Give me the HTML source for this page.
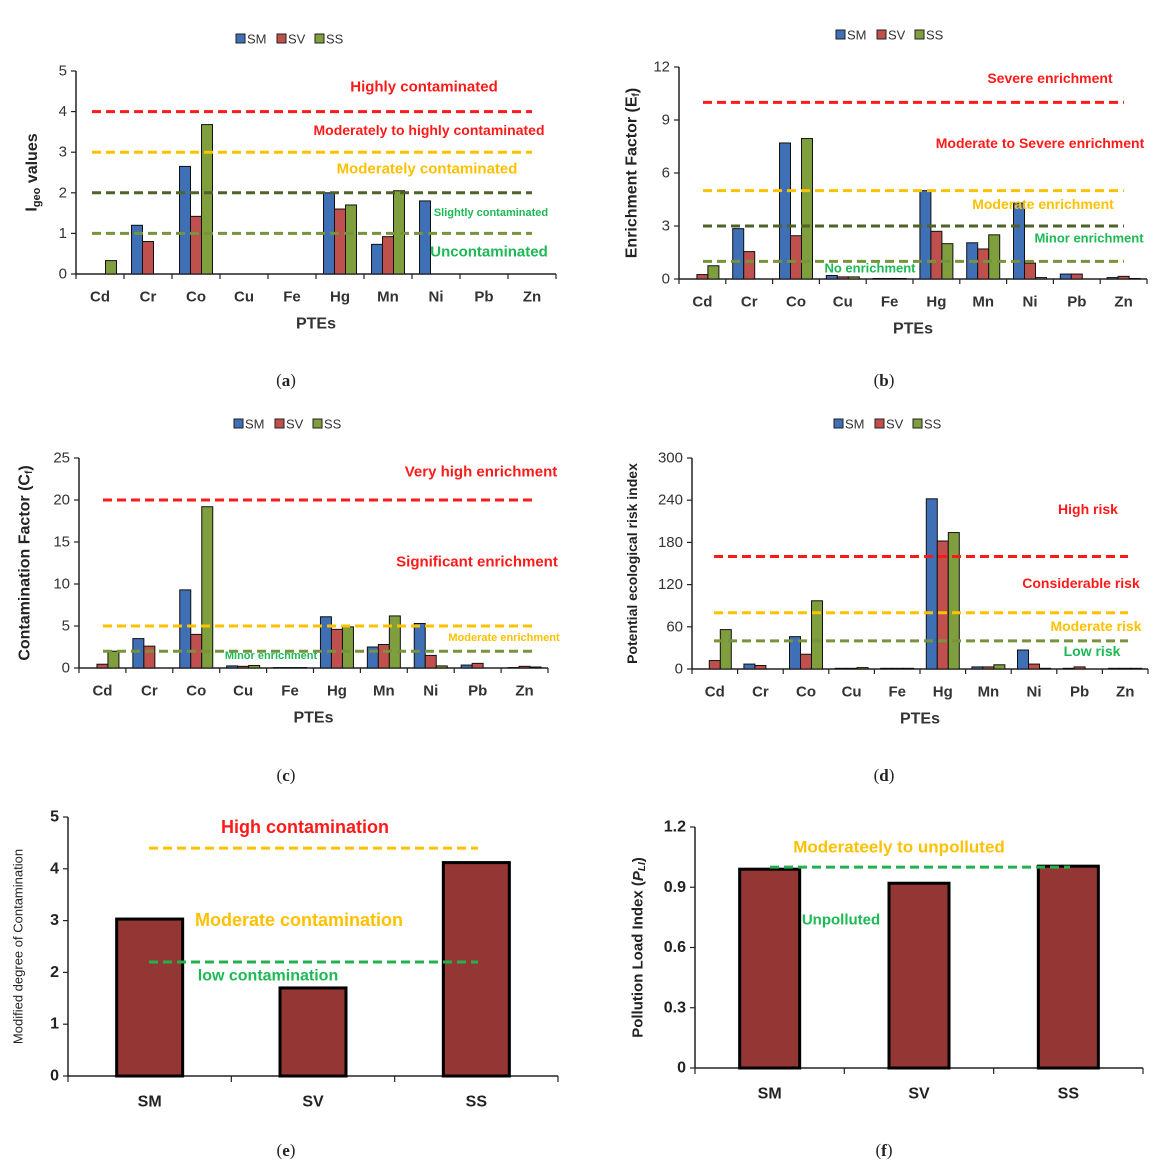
<!DOCTYPE html>
<html><head><meta charset="utf-8"><style>
body{margin:0;background:#fff;}
svg{display:block;font-family:"Liberation Sans",sans-serif;}
</style></head><body>
<svg id="fig" width="1167" height="1168" viewBox="0 0 1167 1168"></svg>
<script>
const elements = ["Cd","Cr","Co","Cu","Fe","Hg","Mn","Ni","Pb","Zn"];
const seriesNames = ["SM","SV","SS"];
const igeoSM = [0,1.2,2.65,0,0,2.0,0.73,1.8,0,0];
const igeoSV = [0,0.8,1.42,0,0,1.6,0.92,0,0,0];
const igeoSS = [0.33,0,3.68,0,0,1.7,2.05,0,0,0];
const igeoTicks = [0,1,2,3,4,5];
const efSM = [0,2.85,7.7,0.2,0.03,5.0,2.05,4.3,0.28,0.08];
const efSV = [0.25,1.55,2.45,0.12,0.03,2.7,1.7,0.9,0.28,0.15];
const efSS = [0.75,0,7.95,0.12,0.03,2.0,2.5,0.08,0,0.03];
const efTicks = [0,3,6,9,12];
const cfSM = [0,3.5,9.3,0.25,0.05,6.1,2.5,5.3,0.35,0.05];
const cfSV = [0.45,2.6,4.0,0.2,0.05,4.6,2.8,1.5,0.55,0.2];
const cfSS = [2.0,0,19.2,0.3,0.05,4.9,6.2,0.25,0,0.12];
const cfTicks = [0,5,10,15,20,25];
const erSM = [0,7,46,1,1,242,3,27,1,1];
const erSV = [12,5,21,1,1,182,3,7,3,1];
const erSS = [56,0,97,2,1,194,6,1,0,1];
const erTicks = [0,60,120,180,240,300];
const sites = ["SM","SV","SS"];
const mcdValues = [3.03,1.7,4.12];
const mcdTicks = [0,1,2,3,4,5];
const pliValues = [0.99,0.92,1.005];
const pliTicks = ["0","0.3","0.6","0.9","1.2"];

const NS="http://www.w3.org/2000/svg";
const svg=document.getElementById('fig');
const COL={SM:"#4472c4",SV:"#c0504d",SS:"#77933c",red:"#ff1a1a",orange:"#ffc000",dk:"#4f6228",lt:"#77933c",green:"#22b14c",txtG:"#1db954"};
const BARC=["#3f6fb5","#c0504d","#7f9f3f"];
function mk(tag,attrs,parent){const e=document.createElementNS(NS,tag);for(const k in attrs)e.setAttribute(k,attrs[k]);(parent||svg).appendChild(e);return e;}
function txt(s,x,y,attrs,parent){const t=mk('text',Object.assign({x:x,y:y,'text-anchor':'middle','dominant-baseline':'central'},attrs),parent);t.textContent=s;return t;}

function groupChart(o){
  const g=mk('g',{});
  
  
  const yS=v=>o.y0-(v/o.ymax)*(o.y0-o.ytop);
  const cw=(o.x1-o.x0)/elements.length;
  const xAx=mk('line',{x1:o.x0,y1:o.y0,x2:o.x1,y2:o.y0,stroke:'#222','stroke-width':1.5},g);
  
  const yAx=mk('line',{x1:o.x0,y1:o.ytop,x2:o.x0,y2:o.y0,stroke:'#222','stroke-width':1.5},g);
  
  o.ticks.forEach(t=>{const y=yS(t);mk('line',{x1:o.x0-5,y1:y,x2:o.x0,y2:y,stroke:'#222','stroke-width':1.2},g);
    const l=txt(String(t),o.x0-9,y,{'text-anchor':'end','font-size':15,fill:'#333'},g);
    });
  for(let i=0;i<=elements.length;i++){const x=o.x0+i*cw;mk('line',{x1:x,y1:o.y0,x2:x,y2:o.y0+5,stroke:'#222','stroke-width':1.2},g);}
  const bw=11;
  elements.forEach((el,i)=>{
    const cx=o.x0+(i+0.5)*cw;
    const l=txt(el,cx,o.y0+23,{'font-size':15,'font-weight':'bold',fill:'#333'},g);
    
    o.series.forEach((arr,s)=>{const v=arr[i];if(v<=0)return;
      const y=yS(v);const b=mk('rect',{x:cx-1.5*bw+s*bw,y:y,width:bw,height:o.y0-y,fill:BARC[s],stroke:'#111','stroke-width':1},g);
      
      });
  });
  o.lines.forEach(L=>{const y=yS(L.v);const d=mk('line',{x1:o.lx0,y1:y,x2:o.lx1,y2:y,stroke:L.c,'stroke-width':3,'stroke-dasharray':'9,5'},g);
    });
  o.labels.forEach(L=>{const t=txt(L.t,L.x,L.y,{'font-size':L.s||15,'font-weight':'bold',fill:L.c},g);
    });
  const xt=txt('PTEs',(o.x0+o.x1)/2,o.y0+50,{'font-size':16,'font-weight':'bold',fill:'#333'},g);
  
  const yt=txt('',o.ylx,(o.ytop+o.y0)/2,{'font-size':o.yls||16,'font-weight':'bold',fill:'#222',transform:'rotate(-90 '+o.ylx+' '+(o.ytop+o.y0)/2+')'},g);
  yt.innerHTML=o.ylabel;
  
  // legend
  const lg=mk('g',{},g);
  let lx=o.legX;
  seriesNames.forEach((n,s)=>{mk('rect',{x:lx,y:o.legY-5,width:9,height:9,fill:BARC[s],stroke:'#222','stroke-width':1},lg);
    const t=txt(n,lx+11,o.legY,{'text-anchor':'start','font-size':13,fill:'#333'},lg);
    lx+= (s==0?41:38);});
}

groupChart({name:'chart-a-igeo',x0:76,x1:556,y0:274,ytop:71,ymax:5,ticks:igeoTicks,series:[igeoSM,igeoSV,igeoSS],
  lx0:92,lx1:532,lines:[{v:4,c:COL.red},{v:3,c:COL.orange},{v:2,c:COL.dk},{v:1,c:COL.lt}],
  labels:[{t:'Highly contaminated',x:424,y:87,c:COL.red},{t:'Moderately to highly contaminated',x:429,y:130,c:COL.red,s:14},
    {t:'Moderately contaminated',x:427,y:169,c:COL.orange},{t:'Slightly contaminated',x:491,y:213,c:COL.txtG,s:11},{t:'Uncontaminated',x:489,y:252,c:COL.txtG}],
  ylx:32,ylabel:'I<tspan font-size="11" dy="5">geo</tspan><tspan dy="-5"> values</tspan>',legX:236,legY:39});

groupChart({name:'chart-b-enrichment',x0:679,x1:1147,y0:279,ytop:67,ymax:12,ticks:efTicks,series:[efSM,efSV,efSS],
  lx0:703,lx1:1124,lines:[{v:10,c:COL.red},{v:5,c:COL.orange},{v:3,c:COL.dk},{v:1,c:COL.lt}],
  labels:[{t:'Severe enrichment',x:1050,y:78,c:COL.red,s:14},{t:'Moderate to Severe enrichment',x:1040,y:143,c:COL.red,s:14},
    {t:'Moderate enrichment',x:1043,y:204,c:COL.orange,s:14},{t:'Minor enrichment',x:1089,y:238,c:COL.txtG,s:13},{t:'No enrichment',x:870,y:268,c:COL.txtG,s:13}],
  ylx:632,ylabel:'Enrichment  Factor (E<tspan font-size="10" dy="4">f</tspan><tspan dy="-4">)</tspan>',legX:836,legY:35});

groupChart({name:'chart-c-contamination-factor',x0:79,x1:548,y0:668,ytop:458,ymax:25,ticks:cfTicks,series:[cfSM,cfSV,cfSS],
  lx0:103,lx1:532,lines:[{v:20,c:COL.red},{v:5,c:COL.orange},{v:2,c:COL.lt}],
  labels:[{t:'Very high enrichment',x:481,y:472,c:COL.red},{t:'Significant enrichment',x:477,y:562,c:COL.red},
    {t:'Moderate enrichment',x:504,y:638,c:COL.orange,s:11},{t:'Minor enrichment',x:271,y:656,c:COL.txtG,s:11}],
  ylx:25,ylabel:'Contamination  Factor (C<tspan font-size="10" dy="4">f</tspan><tspan dy="-4">)</tspan>',legX:234,legY:424});

groupChart({name:'chart-d-ecological-risk',x0:692,x1:1148,y0:669,ytop:458,ymax:300,ticks:erTicks,series:[erSM,erSV,erSS],
  lx0:714,lx1:1128,lines:[{v:160,c:COL.red},{v:80,c:COL.orange},{v:40,c:COL.lt}],
  labels:[{t:'High risk',x:1088,y:509,c:COL.red,s:14},{t:'Considerable risk',x:1081,y:583,c:COL.red,s:14},
    {t:'Moderate risk',x:1096,y:626,c:COL.orange,s:14},{t:'Low risk',x:1092,y:651,c:COL.txtG,s:14}],
  ylx:632,yls:14,ylabel:'Potential ecological risk index',legX:834,legY:424});

function siteChart(o){
  const g=mk('g',{});
  
  
  const yS=v=>o.y0-(v/o.ymax)*(o.y0-o.ytop);
  const cw=(o.x1-o.x0)/sites.length;
  mk('line',{x1:o.x0,y1:o.y0,x2:o.x1,y2:o.y0,stroke:'#222','stroke-width':1.5},g);
  mk('line',{x1:o.x0,y1:o.ytop,x2:o.x0,y2:o.y0,stroke:'#222','stroke-width':1.5},g);
  o.ticks.forEach(t=>{const y=yS(parseFloat(t));mk('line',{x1:o.x0-5,y1:y,x2:o.x0,y2:y,stroke:'#222','stroke-width':1.2},g);
    const l=txt(String(t),o.x0-9,y,{'text-anchor':'end','font-size':16,'font-weight':'bold',fill:'#222'},g);
    });
  for(let i=0;i<=sites.length;i++){const x=o.x0+i*cw;mk('line',{x1:x,y1:o.y0,x2:x,y2:o.y0+6,stroke:'#222','stroke-width':1.2},g);}
  sites.forEach((s,i)=>{const cx=o.x0+(i+0.5)*cw;const y=yS(o.vals[i]);
    const b=mk('rect',{x:cx-o.bw/2,y:y,width:o.bw,height:o.y0-y,fill:'#943634',stroke:'#000','stroke-width':3},g);
    
    const l=txt(s,cx,o.y0+26,{'font-size':16,'font-weight':'bold',fill:'#222'},g);
    });
  o.lines.forEach(L=>{const y=yS(L.v);const d=mk('line',{x1:o.lx0,y1:y,x2:o.lx1,y2:y,stroke:L.c,'stroke-width':3,'stroke-dasharray':'9,5'},g);
    });
  o.labels.forEach(L=>{const t=txt(L.t,L.x,L.y,{'font-size':L.s||18,'font-weight':'bold',fill:L.c},g);
    });
  const cy=(o.ytop+o.y0)/2;
  const yt=txt('',o.ylx,cy,{'font-size':o.yls,'font-weight':o.ylw,fill:'#222',transform:'rotate(-90 '+o.ylx+' '+cy+')'},g);
  yt.innerHTML=o.ylabel;
}
siteChart({name:'chart-e-modified-degree',x0:68,x1:558,y0:1076,ytop:817,ymax:5,ticks:mcdTicks,vals:mcdValues,bw:66,
  lx0:149,lx1:478,lines:[{v:4.4,c:COL.orange},{v:2.2,c:COL.green}],
  labels:[{t:'High contamination',x:305,y:827,c:COL.red},{t:'Moderate contamination',x:299,y:920,c:COL.orange},{t:'low contamination',x:268,y:976,c:COL.txtG,s:16}],
  ylx:18,yls:13,ylw:'normal',ylabel:'Modified degree of Contamination'});
siteChart({name:'chart-f-pollution-load',x0:695,x1:1143,y0:1068,ytop:827,ymax:1.2,ticks:pliTicks,vals:pliValues,bw:60,
  lx0:770,lx1:1070,lines:[{v:1.0,c:COL.green}],
  labels:[{t:'Moderateely to unpolluted',x:899,y:847,c:COL.orange,s:17},{t:'Unpolluted',x:841,y:920,c:COL.txtG,s:15}],
  ylx:638,yls:15,ylw:'bold',ylabel:'Pollution Load Index (<tspan font-style="italic">P<tspan font-size="10" dy="4">LI</tspan></tspan><tspan dy="-4">)</tspan>'});

[['(a)',286,380],['(b)',884,380],['(c)',286,775],['(d)',884,775],['(e)',286,1150],['(f)',884,1150]].forEach(c=>{
  const t=txt('',c[1],c[2],{'font-size':17,fill:'#222','font-family':'Liberation Serif, serif'});
  t.innerHTML='(<tspan font-weight="bold">'+c[0][1]+'</tspan>)';
  
  
});
</script>
</body></html>
